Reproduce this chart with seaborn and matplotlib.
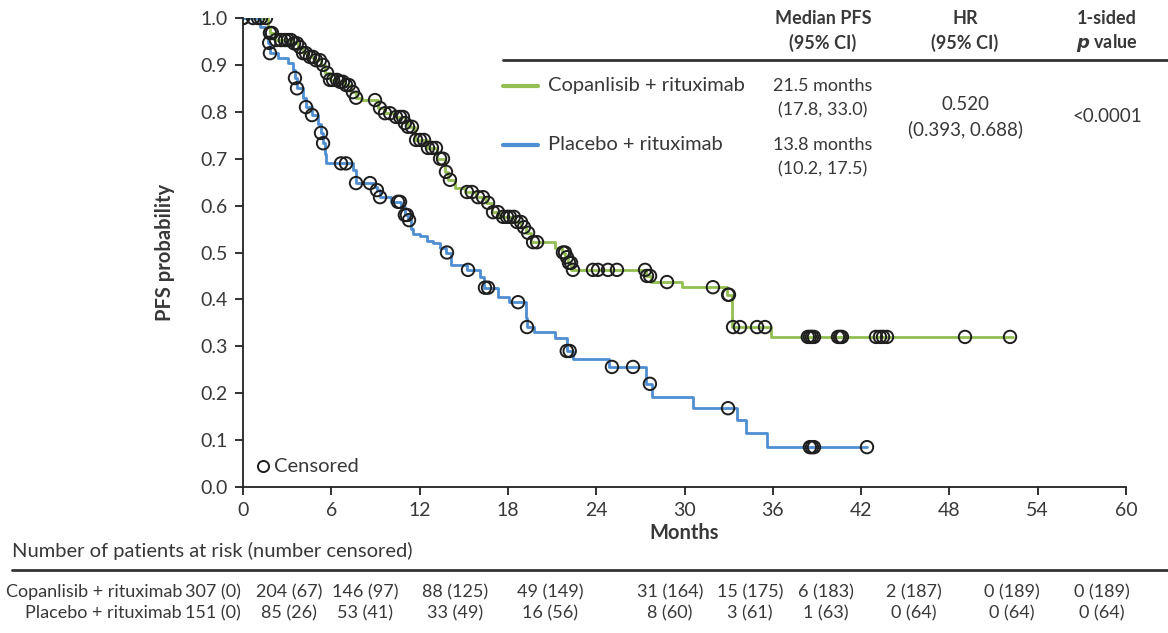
import numpy as np
import pandas as pd
import matplotlib
matplotlib.use("Agg")
import matplotlib.pyplot as plt
from matplotlib.lines import Line2D
import seaborn as sns

# ---------------- data ----------------
arms = ["Copanlisib + rituximab", "Placebo + rituximab"]

cop_event_t = [1.70, 1.83, 2.17, 3.40, 3.74, 4.08, 4.42, 4.89, 5.30, 5.57, 5.91, 6.46, 6.93, 7.34,
               7.68, 8.09, 9.17, 9.65, 10.33, 11.0, 11.2, 11.7, 12.5, 13.2, 13.7, 13.9, 14.4, 15.1,
               15.8, 16.5, 16.9, 17.4, 18.5, 18.9, 19.2, 19.6, 21.2, 21.7, 21.9, 22.1, 22.3, 27.4,
               27.7, 29.8, 32.9, 33.2, 35.9]
cop_event_s = [0.98, 0.968, 0.953, 0.946, 0.938, 0.925, 0.917, 0.91, 0.90, 0.883, 0.868, 0.864,
               0.857, 0.842, 0.83, 0.825, 0.808, 0.797, 0.789, 0.776, 0.768, 0.74, 0.723, 0.70,
               0.672, 0.655, 0.637, 0.629, 0.618, 0.606, 0.586, 0.576, 0.565, 0.554, 0.542, 0.522,
               0.51, 0.50, 0.49, 0.478, 0.463, 0.45, 0.437, 0.426, 0.41, 0.341, 0.32]
cop_end = 52.3
cop_censor_t = [0, 0.68, 1.22, 1.56, 1.83, 1.97, 2.24, 2.58, 2.85, 3.06, 3.26, 3.47, 3.67, 3.87,
                4.08, 4.28, 4.55, 4.76, 4.96, 5.23, 5.44, 5.71, 5.91, 6.12, 6.39, 6.59, 6.79, 7.0,
                7.2, 7.47, 7.68, 8.97, 9.31, 9.65, 9.99, 10.4, 10.67, 10.87, 11.0, 11.21, 11.48,
                11.76, 12.03, 12.3, 12.57, 12.84, 13.11, 13.39, 13.59, 13.79, 14.06, 15.22, 15.56,
                15.97, 16.31, 16.65, 16.99, 17.33, 17.67, 17.94, 18.14, 18.41, 18.62, 18.89, 19.09,
                19.37, 19.71, 19.98, 21.74, 21.88, 22.01, 22.15, 22.29, 22.42, 23.78, 24.12, 24.8,
                25.41, 27.32, 27.45, 27.66, 28.81, 31.93, 32.96, 33.02, 33.3, 33.77, 34.93, 35.47,
                38.38, 38.52, 38.66, 38.8, 40.43, 40.57, 40.7, 43.01, 43.28, 43.49, 43.76, 49.06,
                52.12]

pla_event_t = [1.16, 1.49, 1.70, 1.83, 2.38, 3.06, 3.40, 3.53, 3.67, 4.08, 4.28, 4.69, 5.10, 5.30,
               5.44, 5.57, 5.64, 7.47, 7.68, 8.97, 9.10, 9.31, 10.06, 10.74, 11.0, 11.2, 11.4,
               11.55, 12.0, 12.5, 12.9, 13.4, 13.8, 14.1, 15.2, 16.1, 16.4, 17.3, 18.1, 19.2, 19.3,
               19.8, 21.2, 22.0, 22.4, 24.9, 27.4, 27.8, 30.6, 33.6, 34.2, 35.6]
pla_event_s = [0.98, 0.96, 0.947, 0.925, 0.915, 0.905, 0.89, 0.872, 0.85, 0.83, 0.81, 0.793,
               0.775, 0.755, 0.733, 0.71, 0.69, 0.676, 0.648, 0.64, 0.633, 0.618, 0.608, 0.597,
               0.58, 0.569, 0.55, 0.54, 0.535, 0.525, 0.52, 0.51, 0.50, 0.473, 0.463, 0.448, 0.425,
               0.405, 0.394, 0.36, 0.341, 0.33, 0.318, 0.29, 0.273, 0.256, 0.22, 0.192, 0.168,
               0.143, 0.115, 0.085]
pla_end = 42.4
pla_censor_t = [0, 1.02, 1.78, 1.83, 3.53, 3.67, 4.28, 4.69, 5.30, 5.44, 6.66, 7.0, 7.68, 8.63,
                9.10, 9.31, 10.53, 10.67, 11.0, 11.14, 11.28, 13.86, 15.29, 16.44, 16.65, 18.69,
                19.3, 22.0, 22.2, 25.07, 26.5, 27.65, 32.96, 38.52, 38.66, 38.8, 42.4]

risk_times = [0, 6, 12, 18, 24, 30, 36, 42, 48, 54, 60]
cop_at_risk = [307, 204, 146, 88, 49, 31, 15, 6, 2, 0, 0]
cop_censored = [0, 67, 97, 125, 149, 164, 175, 183, 187, 189, 189]
pla_at_risk = [151, 85, 53, 33, 16, 8, 3, 1, 0, 0, 0]
pla_censored = [0, 26, 41, 49, 56, 60, 61, 63, 64, 64, 64]

median_pfs = ["21.5 months", "13.8 months"]
median_ci = ["(17.8, 33.0)", "(10.2, 17.5)"]
hr_text = ["0.520", "(0.393, 0.688)"]
p_text = "<0.0001"

# ---------------- style ----------------
sns.set_theme(style="ticks")
plt.rcParams["font.family"] = ["Lato", "DejaVu Sans"]
GREEN = "#93bf52"
BLUE = "#4f8ed2"
TXT = "#383838"
FS = 14.5
FS_NUM = 13
W, H = 1168, 633


def fx(px):
    return px / W


def fy(py):
    return 1 - py / H


def km_frame(arm, ev_t, ev_s, end):
    t = [0.0] + list(ev_t) + [end]
    s = [1.0] + list(ev_s) + [ev_s[-1]]
    return pd.DataFrame({"Months": t, "PFS": s, "arm": arm})


def censor_frame(arm, ev_t, ev_s, c_t):
    t_arr = np.asarray(ev_t)
    s_full = np.concatenate([[1.0], np.asarray(ev_s)])
    idx = np.searchsorted(t_arr, np.asarray(c_t), side="right")
    return pd.DataFrame({"Months": c_t, "PFS": s_full[idx], "arm": arm})


curves = pd.concat([km_frame(arms[0], cop_event_t, cop_event_s, cop_end),
                    km_frame(arms[1], pla_event_t, pla_event_s, pla_end)], ignore_index=True)
cens = pd.concat([censor_frame(arms[0], cop_event_t, cop_event_s, cop_censor_t),
                  censor_frame(arms[1], pla_event_t, pla_event_s, pla_censor_t)], ignore_index=True)

fig = plt.figure(figsize=(W / 100, H / 100), dpi=100)
ax = fig.add_axes([fx(243), fy(487), fx(1126) - fx(243), fy(18) - fy(487)])

palette = {arms[0]: GREEN, arms[1]: BLUE}
sns.lineplot(data=curves, x="Months", y="PFS", hue="arm", palette=palette, estimator=None,
             drawstyle="steps-post", linewidth=2.0, legend=False, ax=ax, sort=False)
sns.scatterplot(data=cens, x="Months", y="PFS", ax=ax, marker="o", s=80, facecolor="none",
                edgecolor="#1e1e1e", linewidth=1.4, legend=False, zorder=5)

ax.set_xlim(0, 60)
ax.set_ylim(0, 1.0)
ax.set_xticks(risk_times)
ax.set_yticks(np.arange(0, 1.01, 0.1))
ax.set_yticklabels([f"{v:.1f}" for v in np.arange(0, 1.01, 0.1)])
sns.despine(ax=ax)
for sp in ["left", "bottom"]:
    ax.spines[sp].set_color("#222222")
    ax.spines[sp].set_linewidth(1.3)
    ax.spines[sp].set_clip_on(False)
ax.tick_params(axis="both", direction="out", length=6, width=1.3, color="#222222",
               labelsize=14, labelcolor=TXT, pad=5)
ax.set_xlabel("Months", fontsize=FS, fontweight="bold", color=TXT, labelpad=3)
ax.set_ylabel("PFS probability", fontsize=FS, fontweight="bold", color=TXT, labelpad=18)
ax.patch.set_alpha(0)

# ------------- summary table / legend -------------
hdr = dict(ha="center", va="center", fontsize=13, fontweight="bold", color=TXT)
fig.text(fx(823), fy(18), "Median PFS", **hdr)
fig.text(fx(823), fy(43), "(95% CI)", **hdr)
fig.text(fx(965), fy(18), "HR", **hdr)
fig.text(fx(965), fy(43), "(95% CI)", **hdr)
fig.text(fx(1107), fy(18), "1-sided", **hdr)
fig.text(fx(1107), fy(43), r"$\bfit{p}$" + " value", **hdr)
fig.add_artist(Line2D([fx(503), fx(1168)], [fy(60), fy(60)], color="#333333", lw=2.0,
                      transform=fig.transFigure))

body = dict(va="center", fontsize=FS, color=TXT)
num = dict(va="center", fontsize=FS_NUM, color=TXT)
for i, (yy, col) in enumerate([(86, GREEN), (145, BLUE)]):
    fig.add_artist(Line2D([fx(503), fx(538)], [fy(yy), fy(yy)], color=col, lw=3.0,
                          transform=fig.transFigure))
    fig.text(fx(548), fy(yy), arms[i], ha="left", **body)
    fig.text(fx(823), fy(yy), median_pfs[i], ha="center", **num)
    fig.text(fx(823), fy(yy + 24), median_ci[i], ha="center", **num)
fig.text(fx(965), fy(105), hr_text[0], ha="center", fontsize=13.5, va="center", color=TXT)
fig.text(fx(965), fy(129), hr_text[1], ha="center", fontsize=13.5, va="center", color=TXT)
fig.text(fx(1107), fy(117), p_text, ha="center", fontsize=13.5, va="center", color=TXT)

# censored key
fig.add_artist(Line2D([fx(263)], [fy(466)], marker="o", markersize=8, markerfacecolor="none",
                      markeredgecolor="#1e1e1e", markeredgewidth=1.4, linestyle="none",
                      transform=fig.transFigure))
fig.text(fx(274), fy(466), "Censored", ha="left", **body)

# ------------- risk table -------------
fig.text(fx(12), fy(551), "Number of patients at risk (number censored)", ha="left", **body)
fig.add_artist(Line2D([fx(12), fx(1168)], [fy(570), fy(570)], color="#333333", lw=2.0,
                      transform=fig.transFigure))
col_x = [213, 289, 365, 455, 550, 670, 750, 826, 914, 1012, 1102]
rows = [(592, arms[0], cop_at_risk, cop_censored), (613, arms[1], pla_at_risk, pla_censored)]
for yy, name, nr, nc in rows:
    fig.text(fx(182), fy(yy), name, ha="right", **num)
    for cx, a, c in zip(col_x, nr, nc):
        fig.text(fx(cx), fy(yy), f"{a} ({c})", ha="center", **num)

fig.savefig("out.png", dpi=100, facecolor="white")
